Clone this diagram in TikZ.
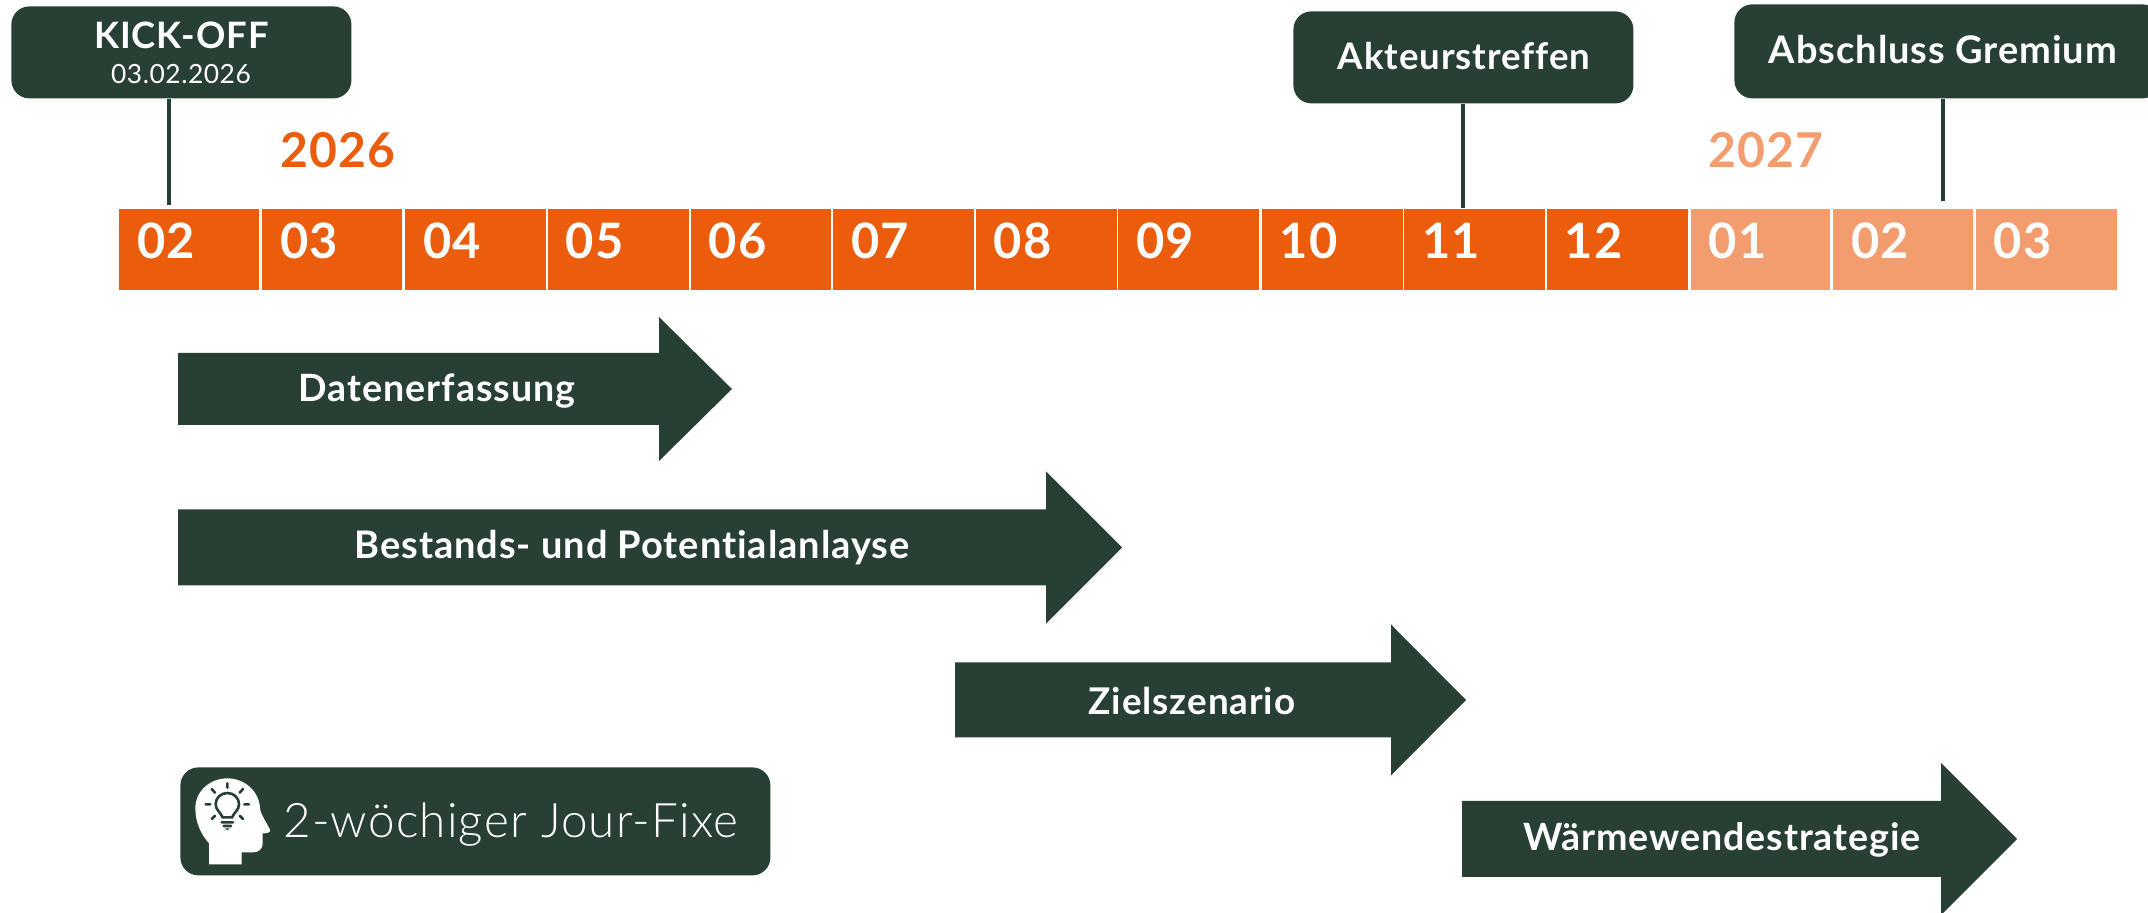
\documentclass[tikz,border=0pt]{standalone}
\usepackage{fontspec}
\setmainfont{Lato}[LetterSpace=2.5,Ligatures=NoCommon]
\newfontfamily\lightfont{Lato Light}[LetterSpace=2.5,Ligatures=NoCommon]
\newfontfamily\regfont{Lato}[LetterSpace=2,Ligatures=NoCommon]
\definecolor{dark}{HTML}{283F33}
\definecolor{orng}{HTML}{EB5C0D}
\definecolor{pale}{HTML}{F39D6F}
\tikzset{
  px/.style={x=0.5pt,y=-0.5pt},
  msbox/.style={fill=dark,rounded corners=9pt,inner sep=0pt,text=white},
  mslabel/.style={inner sep=0pt,text=white,font=\bfseries\fontsize{18.3}{21}\selectfont},
  stem/.style={draw=dark,line width=2pt},
  cellbox/.style={minimum height=40.5pt,inner sep=0pt},
  celltext/.style={inner sep=0pt,anchor=west,text=white,font=\bfseries\fontsize{24.4}{28}\selectfont},
  yeartext/.style={inner sep=0pt,font=\bfseries\fontsize{24}{28}\selectfont},
  barrow/.style={fill=dark},
  arrowtext/.style={inner sep=0pt,text=white,font=\bfseries\fontsize{18.8}{22}\selectfont},
}
\newcommand{\boxat}[5]{% name, x0,y0,x1,y1
  \node[msbox,minimum width={(#4-#2)*0.5pt},minimum height={(#5-#3)*0.5pt},anchor=north west] (#1) at (#2,#3) {};}
\newcommand{\bararrow}[6]{% x0, xneck, tip, shaft half, head half, cy
  \fill[barrow] (#1,#6-#4) -- (#2,#6-#4) -- (#2,#6-#5) -- (#3,#6) -- (#2,#6+#5) -- (#2,#6+#4) -- (#1,#6+#4) -- cycle;}
\begin{document}
\begin{tikzpicture}[px]
\useasboundingbox (0,0) rectangle (2148,913);
\clip (0,0) rectangle (2148,913);

% month cells
\foreach \n/\x/\w/\t/\c in {1/119/140/02/orng,2/262/140/03/orng,3/404.7/141/04/orng,4/547.5/141/05/orng,5/690.3/140/06/orng,6/833/141/07/orng,7/975.5/141/08/orng,8/1118/141/09/orng,9/1261.5/141/10/orng,10/1404/141/11/orng,11/1546.5/141.5/12/orng,12/1690.5/139.5/01/pale,13/1833/140/02/pale,14/1975.5/141/03/pale}{
  \node[cellbox,fill=\c,minimum width={\w*0.5pt},anchor=north west] (c\n) at (\x,209) {};
  \node[celltext] (t\n) at (\x+18,241) {\t};
}

% years
\node[yeartext,text=orng] (y26) at (338,150) {2026};
\node[yeartext,text=pale] (y27) at (1766,150) {2027};

% milestone boxes
\boxat{kick}{11}{6}{351}{98}
\node[inner sep=0pt,text=white,font=\bfseries\fontsize{18.2}{21}\selectfont] (kt) at (181.5,35) {KICK-OFF};
\node[inner sep=0pt,text=white,font=\regfont\fontsize{13.2}{16}\selectfont] (kd) at (181,74) {03.02.2026};
\boxat{akt}{1293}{11}{1633}{103}
\node[mslabel] (at) at (1464,56) {Akteurstreffen};
\boxat{abs}{1734}{4}{2160}{98}
\node[mslabel,font=\bfseries\fontsize{19}{21}\selectfont] (bt) at (1943,50) {Abschluss Gremium};

% stems
\coordinate (ke) at (169,205);
\coordinate (ae) at (1463,208);
\coordinate (be) at (1943,201);
\draw[stem] (kick.south -| ke) -- (ke);
\draw[stem] (akt.south -| ae) -- (ae);
\draw[stem] (abs.south -| be) -- (be);

% arrows
\bararrow{178}{659}{732}{36}{72}{389}
\node[arrowtext] (a1) at (437,391) {Datenerfassung};
\bararrow{178}{1046}{1122}{38}{76}{547.5}
\node[arrowtext,font=\bfseries\fontsize{19}{22}\selectfont] (a2) at (632,548) {Bestands- und Potentialanlayse};
\bararrow{955}{1391}{1466}{37.5}{75.5}{700}
\node[arrowtext,font=\bfseries\fontsize{18.4}{22}\selectfont] (a3) at (1192,701) {Zielszenario};
\bararrow{1462}{1941}{2017}{38}{76}{839}
\node[arrowtext] (a4) at (1722,840) {Wärmewendestrategie};

% jour-fixe
\boxat{jf}{180}{767}{770}{875}
\node[inner sep=0pt,text=white,anchor=west,font=\lightfont\fontsize{23.8}{28}\selectfont] (jt) at (283,825) {2-wöchiger Jour-Fixe};

% head icon
\begin{scope}[x=0.16667pt,y=-0.16667pt,shift={(510,2295)}]
\fill[white] (117,298) -- (117,235) .. controls (95,210) and (76,175) .. (76,130) .. controls (76,78) and (120,40) .. (172,40) .. controls (225,40) and (268,80) .. (270,130) .. controls (272,150) and (295,180) .. (300,195) .. controls (302,203) and (290,205) .. (278,205) -- (278,235) .. controls (278,252) and (265,262) .. (250,262) -- (215,262) -- (215,298) -- cycle;
\draw[dark,line width=1.3pt] (158,157) .. controls (150,140) and (137,135) .. (137,117) .. controls (137,98) and (153,84) .. (172,84) .. controls (191,84) and (207,98) .. (207,117) .. controls (207,135) and (194,140) .. (186,157) -- cycle;
\draw[dark,line width=1.3pt,line cap=round] (172,55) -- (172,68) (125,72) -- (135,83) (219,72) -- (209,83) (107,118) -- (121,118) (223,118) -- (237,118) (125,162) -- (135,152) (219,162) -- (209,152) (155,172) -- (189,172) (161,183) -- (183,183);
\fill[dark] (165,190) -- (179,190) -- (172,196) -- cycle;
\end{scope}
\end{tikzpicture}
\end{document}
